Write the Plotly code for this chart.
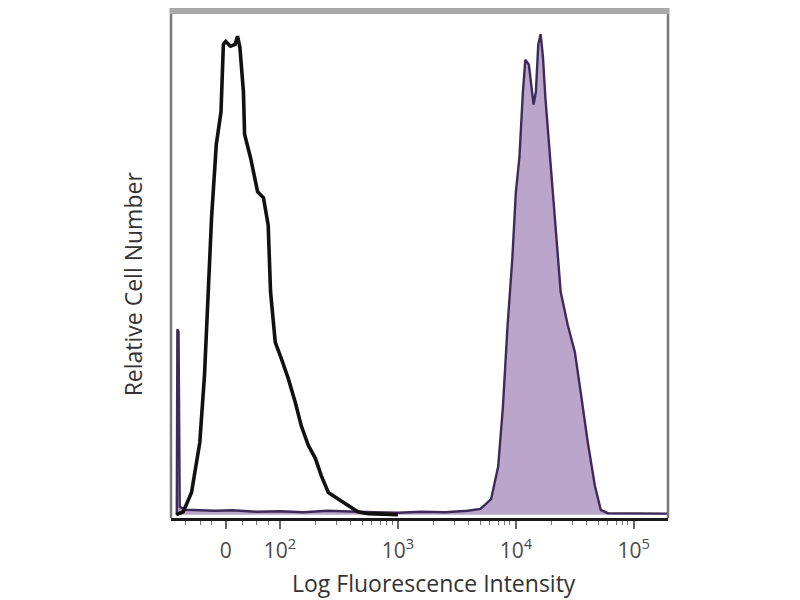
import plotly.graph_objects as go

# x values are in display (logicle-like) units: 2 = 10^2, 3 = 10^3, ...
iso_x = [1.12, 1.14, 1.18, 1.25, 1.32, 1.36, 1.39, 1.42, 1.46, 1.50, 1.52, 1.54, 1.58,
         1.62, 1.64, 1.66, 1.69, 1.70, 1.75, 1.81, 1.86, 1.90, 1.92, 1.96, 2.01, 2.07,
         2.13, 2.18, 2.24, 2.30, 2.35, 2.41, 2.49, 2.58, 2.66, 2.75, 3.00]
iso_y = [0.0, 0.2, 0.6, 4.6, 15.0, 29.0, 46.3, 61.7, 76.9, 83.7, 97.7, 98.3, 97.3,
         97.7, 99.4, 97.1, 87.9, 79.0, 74.2, 67.1, 65.8, 60.2, 46.3, 35.8, 32.5, 28.3,
         23.3, 18.5, 14.4, 11.7, 8.1, 4.6, 3.3, 1.9, 0.6, 0.2, 0.0]

stain_x = [1.125, 1.13, 1.14, 1.15, 1.20, 1.30, 1.45, 1.60, 1.80, 2.00, 2.20, 2.40,
           2.60, 2.80, 3.00, 3.20, 3.40, 3.59, 3.70, 3.79, 3.85, 3.89, 3.93, 3.97,
           4.00, 4.03, 4.06, 4.08, 4.11, 4.13, 4.15, 4.17, 4.19, 4.21, 4.23, 4.25,
           4.29, 4.33, 4.38, 4.44, 4.50, 4.55, 4.61, 4.67, 4.72, 4.78, 5.00, 5.29]
stain_y = [0.0, 38.5, 38.0, 1.6, 1.0, 0.9, 0.8, 0.9, 0.6, 0.7, 0.5, 0.8,
           0.6, 0.5, 0.4, 0.6, 0.5, 0.8, 1.2, 3.2, 10.0, 22.3, 39.4, 53.2,
           67.0, 74.2, 87.9, 94.5, 93.5, 88.7, 85.2, 87.9, 97.7, 99.8, 95.0, 86.7,
           74.2, 60.2, 46.3, 39.4, 33.8, 25.4, 15.0, 6.0, 1.0, 0.3, 0.2, 0.2]

tick_vals = [1.54, 2, 3, 4, 5]
tick_text = ["0", "10<sup>2</sup>", "10<sup>3</sup>", "10<sup>4</sup>", "10<sup>5</sup>"]
minor_vals = [1.20, 1.33, 1.42, 1.68, 1.80, 1.90,
              2.30, 2.48, 2.60, 2.70, 2.78, 2.85, 2.90, 2.95,
              3.30, 3.48, 3.60, 3.70, 3.78, 3.85, 3.90, 3.95,
              4.30, 4.48, 4.60, 4.70, 4.78, 4.85, 4.90, 4.95]

x_title = "Log Fluorescence Intensity"
y_title = "Relative Cell Number"

fig = go.Figure()
fig.add_trace(go.Scatter(
    x=stain_x, y=stain_y, mode="lines", fill="tozeroy",
    fillcolor="#bba5cb", line=dict(color="#3e2b5a", width=2.4), hoverinfo="skip"))
fig.add_trace(go.Scatter(
    x=iso_x, y=iso_y, mode="lines",
    line=dict(color="#111111", width=3.6), hoverinfo="skip"))

font_family = "Open Sans, Noto Sans, sans-serif"

fig.update_layout(
    width=800, height=600,
    margin=dict(l=163, r=140, t=6, b=90),
    paper_bgcolor="white", plot_bgcolor="white",
    showlegend=False,
    xaxis=dict(
        range=[1.076, 5.29], showgrid=False, zeroline=False,
        showline=True, linecolor="#1a1a1a", linewidth=3,
        tickmode="array", tickvals=tick_vals, ticktext=tick_text,
        ticks="outside", ticklen=8, tickwidth=1.5, tickcolor="#666",
        ticklabelstandoff=4,
        tickfont=dict(family=font_family, size=21, color="#4a4a4a"),
        minor=dict(tickvals=minor_vals, ticks="outside", ticklen=4,
                   tickwidth=1, tickcolor="#777"),
    ),
    yaxis=dict(
        range=[-0.7, 104], showgrid=False, zeroline=False,
        showline=False, showticklabels=False, ticks="",
    ),
    shapes=[
        dict(type="line", xref="paper", yref="paper", x0=0, x1=0, y0=0, y1=1,
             line=dict(color="#7a7a7a", width=2.5)),
        dict(type="line", xref="paper", yref="paper", x0=1, x1=1, y0=0, y1=1,
             line=dict(color="#7a7a7a", width=2.5)),
        dict(type="rect", xref="paper", yref="paper", x0=-0.003, x1=1.003,
             y0=1, y1=1.02, fillcolor="#a9a9a9", line=dict(width=0)),
    ],
    annotations=[
        dict(text=x_title, xref="paper", yref="paper", x=0.53, y=-0.128,
             xanchor="center", yanchor="middle", showarrow=False,
             font=dict(family=font_family, size=23, color="#333")),
        dict(text=y_title, xref="paper", yref="paper", x=-0.077, y=0.465,
             xanchor="center", yanchor="middle", showarrow=False, textangle=-90,
             font=dict(family=font_family, size=23, color="#333")),
    ],
)

fig.write_html("out.html")
